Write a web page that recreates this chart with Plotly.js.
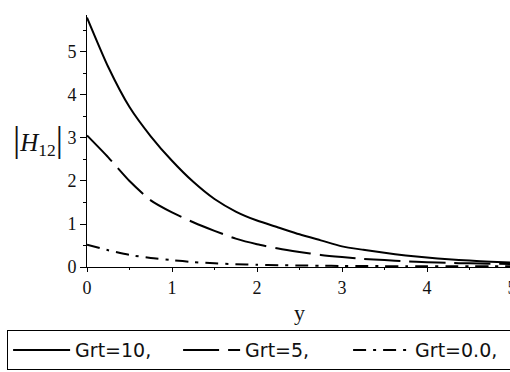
<!DOCTYPE html>
<html>
<head>
<meta charset="utf-8">
<script src="https://cdn.plot.ly/plotly-3.0.1.min.js"></script>
<style>
  html, body { margin: 0; padding: 0; background: #fff; overflow: hidden; }
  #chart { width: 516px; height: 372px; }
</style>
</head>
<body>
<div id="chart"></div>
<script>
// Distance from the plate, y
const yPos = [0, 0.25, 0.5, 0.75, 1, 1.25, 1.5, 1.75, 2, 2.25, 2.5, 2.75,
              3, 3.25, 3.5, 3.75, 4, 4.25, 4.5, 4.75, 5];

// |H12| for each Grashof number
const hGrt10 = [5.80, 4.65, 3.72, 3.04, 2.47, 1.98, 1.58, 1.29, 1.08, 0.92, 0.76, 0.62,
                0.48, 0.40, 0.33, 0.27, 0.22, 0.18, 0.15, 0.12, 0.10];
const hGrt5  = [3.06, 2.55, 2.00, 1.55, 1.27, 1.04, 0.84, 0.66, 0.53, 0.43, 0.35, 0.28,
                0.23, 0.19, 0.16, 0.13, 0.11, 0.095, 0.085, 0.075, 0.07];
const hGrt0  = [0.52, 0.39, 0.28, 0.21, 0.16, 0.115, 0.085, 0.065, 0.05, 0.042, 0.035, 0.03,
                0.025, 0.022, 0.02, 0.019, 0.018, 0.017, 0.016, 0.015, 0.015];

const seriesNames = ['Grt=10,', 'Grt=5,', 'Grt=0.0,'];

const xTicks = [0, 1, 2, 3, 4, 5];
const yTicks = [0, 1, 2, 3, 4, 5];

const ink = '#111';

function curve(yvals, name, dash) {
  return {
    x: yPos, y: yvals, name: name, type: 'scatter', mode: 'lines',
    line: { color: '#000', width: 2, dash: dash, shape: 'spline', smoothing: 0.6 },
    hoverinfo: 'skip', cliponaxis: false
  };
}

const data = [
  curve(hGrt10, seriesNames[0], 'solid'),
  curve(hGrt5,  seriesNames[1], '36px,9px'),
  curve(hGrt0,  seriesNames[2], '13px,7px,3px,7px')
];

const layout = {
  width: 516, height: 372,
  margin: { l: 87, r: 4, t: 15, b: 105, autoexpand: false },
  paper_bgcolor: '#fff', plot_bgcolor: '#fff',
  showlegend: true,
  xaxis: {
    range: [0, 5], showgrid: false, zeroline: false, automargin: false,
    showline: true, linecolor: '#000', linewidth: 1,
    ticks: 'outside', ticklen: 4, tickwidth: 1, tickcolor: '#000',
    tickvals: xTicks, ticktext: xTicks.map(String), ticklabeloverflow: 'allow',
    minor: { dtick: 0.5, ticks: 'outside', ticklen: 2, tickcolor: '#000' },
    tickfont: { family: 'Liberation Serif, serif', size: 18, color: ink },
    title: { text: 'y', font: { family: 'Liberation Serif, serif', size: 22, color: ink }, standoff: 8 }
  },
  yaxis: {
    range: [0, 5.86], showgrid: false, zeroline: false, automargin: false,
    showline: true, linecolor: '#000', linewidth: 1,
    ticks: 'outside', ticklen: 6, tickwidth: 1, tickcolor: '#000',
    tickvals: yTicks, ticktext: yTicks.map(String),
    minor: { dtick: 0.5, ticks: 'outside', ticklen: 3, tickcolor: '#000' },
    tickfont: { family: 'Liberation Serif, serif', size: 18, color: ink }
  },
  legend: {
    orientation: 'h',
    x: -0.188, xanchor: 'left',
    y: -0.409, yanchor: 'bottom',
    bordercolor: '#000', borderwidth: 1, bgcolor: '#fff',
    itemwidth: 57, entrywidth: 98, entrywidthmode: 'pixels',
    font: { family: 'DejaVu Sans, sans-serif', size: 19, color: ink },
    traceorder: 'normal'
  },
  annotations: [{
    xref: 'paper', yref: 'paper', x: -0.115, y: 0.504,
    xanchor: 'center', yanchor: 'middle', showarrow: false,
    text: '<span style="font-size:36px">|</span><i>H</i><sub>12</sub><span style="font-size:36px">|</span>',
    font: { family: 'Liberation Serif, serif', size: 25, color: ink }
  }]
};

Plotly.newPlot('chart', data, layout, { displayModeBar: false, staticPlot: true });
</script>
</body>
</html>
